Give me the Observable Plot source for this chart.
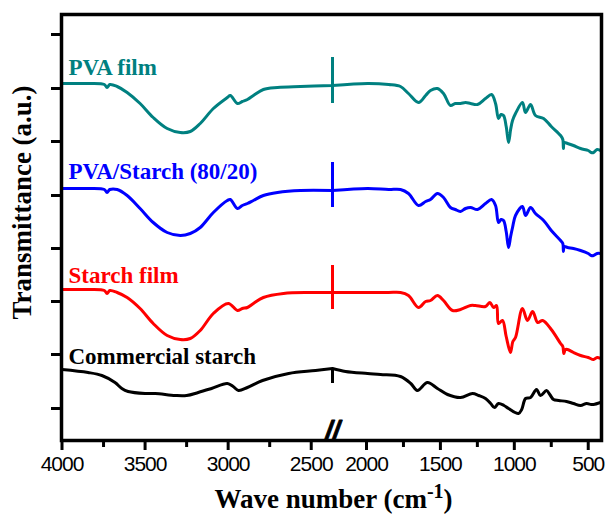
<!DOCTYPE html>
<html>
<head>
<meta charset="utf-8">
<script src="https://cdn.jsdelivr.net/npm/d3@7"></script>
<script src="https://cdn.jsdelivr.net/npm/@observablehq/plot@0.6"></script>
<style>
  body { margin: 0; background: #fff; }
  #chart svg [aria-label="x-axis tick label"] text { letter-spacing: -1px; }
</style>
</head>
<body>
<div id="chart"></div>
<script>
// ---- Data: [wave number (cm-1), transmittance (a.u., offset)] ----
const pvaFilm = [[4000,358],[3850,358],[3745,357],[3729,354],[3712,357],[3668,355],[3608,349],[3530,338],[3451,324],[3367,313],[3288,309],[3228,310],[3168,318],[3089,333],[3005,344],[2987,346],[2944,338],[2915,340],[2884,342],[2848,346],[2788,352],[2703,354],[2565,355],[2372,356],[2230,356],[1993,358],[1850,357],[1770,355],[1716,348],[1648,339],[1600,346],[1567,351],[1520,353],[1479,348],[1432,336],[1400,338],[1364,338],[1330,339],[1296,338],[1249,337],[1195,343],[1154,347],[1127,338],[1107,323],[1090,327],[1073,326],[1055,315],[1039,299],[1025,312],[1012,321],[992,328],[945,339],[924,329],[890,337],[857,326],[802,323],[750,315],[687,306],[672,302],[668,293],[662,299],[640,298],[600,296],[552,293],[500,291],[480,289],[464,289],[440,292],[417,291]];

const pvaStarch = [[4000,253],[3850,253],[3745,252],[3729,249],[3712,252],[3668,252],[3608,246],[3530,233],[3451,219],[3367,209],[3288,206],[3228,208],[3168,214],[3089,229],[3005,241],[2987,242],[2944,233],[2915,236],[2884,238],[2848,241],[2788,246],[2703,249],[2565,251],[2372,251],[2230,251],[1993,253],[1850,252],[1770,252],[1716,248],[1648,236],[1600,240],[1567,242],[1520,248],[1479,244],[1432,234],[1400,232],[1364,230],[1330,233],[1296,234],[1249,232],[1195,238],[1154,242],[1127,236],[1107,219],[1090,222],[1073,221],[1055,210],[1039,194],[1025,205],[1012,214],[992,226],[945,235],[924,226],[890,234],[857,228],[802,221],[750,211],[687,201],[672,198],[668,190],[662,195],[640,194],[600,193],[552,191],[500,188],[480,186],[464,186],[440,188],[417,188]];

const starchFilm = [[4000,152],[3850,152],[3745,151],[3729,148],[3712,151],[3668,149],[3608,144],[3530,133],[3451,118],[3367,106],[3288,102],[3228,103],[3168,111],[3089,128],[2999,138],[2944,131],[2915,133],[2884,134],[2848,138],[2788,144],[2667,148],[2504,149],[2372,149],[2230,149],[1993,149],[1850,149],[1770,149],[1716,146],[1648,134],[1600,140],[1567,141],[1520,146],[1479,141],[1418,131],[1364,132],[1296,136],[1263,136],[1195,135],[1165,139],[1140,134],[1120,136],[1107,118],[1080,121],[1055,105],[1026,89],[1010,100],[992,104],[945,133],[911,121],[876,130],[842,119],[808,121],[750,112],[687,98],[672,95],[665,88],[655,92],[640,92],[600,89],[552,86],[500,84],[464,82],[440,84],[417,83]];

const commercialStarch = [[4000,72],[3843,69],[3760,66],[3681,59],[3640,53],[3602,50],[3500,48],[3439,48],[3318,46],[3250,46],[3180,49],[3100,53],[3005,58],[2970,55],[2938,51],[2884,54],[2793,61],[2636,68],[2474,71],[2372,73],[2230,73],[2142,70],[1993,68],[1905,67],[1770,65],[1700,58],[1656,51],[1588,59],[1520,53],[1452,47],[1364,44],[1283,48],[1240,46],[1195,43],[1160,38],[1134,34],[1107,38],[1070,36],[1039,33],[972,28],[950,32],[924,43],[890,44],[850,52],[823,46],[782,51],[760,47],[735,42],[700,41],[647,40],[600,38],[552,36],[511,38],[480,37],[464,37],[417,39]];

const seriesNames  = ["PVA film", "PVA/Starch (80/20)", "Starch film", "Commercial starch"];
const seriesColors = ["#008080", "#0000ff", "#ff0000", "#000000"];
const seriesData   = [pvaFilm, pvaStarch, starchFilm, commercialStarch];
const labelLevels  = [374, 270, 166, 85];
const breakLow     = [338, 234, 132, 58];
const breakHigh    = [384, 279, 176, 73];

// broken x axis: 4000 -> 2372 | 2230 -> 417
const xDomain    = [4000, 2372, 2230, 417];
const breakAt    = 2300;
const majorTicks = [4000, 3500, 3000, 2500, 2000, 1500, 1000, 500];
const minorTicks = [3750, 3250, 2750, 1750, 1250, 750];
const yTicks     = [33, 87, 140, 193, 246, 300, 353, 407];

const labelTable = seriesNames.map((name, i) => ({name, color: seriesColors[i], t: labelLevels[i]}));
const breakTable = seriesNames.map((name, i) => ({color: seriesColors[i], lo: breakLow[i], hi: breakHigh[i]}));

const serif = "Liberation Serif, Times New Roman, serif";
const sans  = "Liberation Sans, Arial, sans-serif";

const chart = Plot.plot({
  width: 606,
  height: 523,
  marginLeft: 61,
  marginRight: 5,
  marginTop: 14,
  marginBottom: 83,
  x: {type: "linear", domain: xDomain, range: [61.5, 332, 332, 600], label: null},
  y: {domain: [0, 427], range: [441, 14], label: null},
  color: {type: "identity"},
  marks: [
    ...seriesData.map((data, i) => Plot.line(data, {
      x: d => d[0], y: d => d[1], stroke: seriesColors[i], strokeWidth: 3, curve: "catmull-rom"
    })),
    Plot.ruleX(breakTable, {x: () => breakAt, y1: "lo", y2: "hi", stroke: "color", strokeWidth: 3}),
    Plot.text(labelTable, {
      frameAnchor: "left", y: "t", text: "name", fill: "color", dx: 7,
      textAnchor: "start", fontFamily: serif, fontWeight: "bold", fontSize: 23
    }),
    Plot.frame({stroke: "black", strokeWidth: 3.5}),
    Plot.axisY({ticks: yTicks, tickSize: 10, strokeWidth: 3, tickFormat: () => "", label: null}),
    Plot.axisX({ticks: minorTicks, tickSize: 7, strokeWidth: 3, tickFormat: () => "", label: null}),
    Plot.axisX({ticks: majorTicks, tickSize: 10, tickPadding: 6, strokeWidth: 3, label: null,
      fontSize: 21, fontFamily: sans, fill: "black", tickFormat: d => String(d)}),
    Plot.text([breakAt], {x: d => d, frameAnchor: "bottom", text: () => "//", fontSize: 27,
      fontWeight: "bold", fontStyle: "italic", fontFamily: sans, fill: "black",
      stroke: "black", strokeWidth: 0.8, dy: -1}),
    Plot.text(["Transmittance (a.u.)"], {frameAnchor: "left", textAnchor: "middle", rotate: -90,
      dx: -39, dy: -25, fontFamily: serif, fontWeight: "bold", fontSize: 27, fill: "black"}),
    Plot.text(["Wave number (cm"], {frameAnchor: "bottom", textAnchor: "middle", dx: 2, dy: 67,
      fontFamily: serif, fontWeight: "bold", fontSize: 27, fill: "black"})
  ]
});

// superscript for the unit
d3.select(chart).selectAll("text")
  .filter(function () { return this.textContent === "Wave number (cm"; })
  .each(function () {
    const t = d3.select(this);
    t.append("tspan").attr("font-size", 20).attr("dy", -10).text("-1");
    t.append("tspan").attr("dy", 10).text(")");
  });

document.getElementById("chart").append(chart);
</script>
</body>
</html>
